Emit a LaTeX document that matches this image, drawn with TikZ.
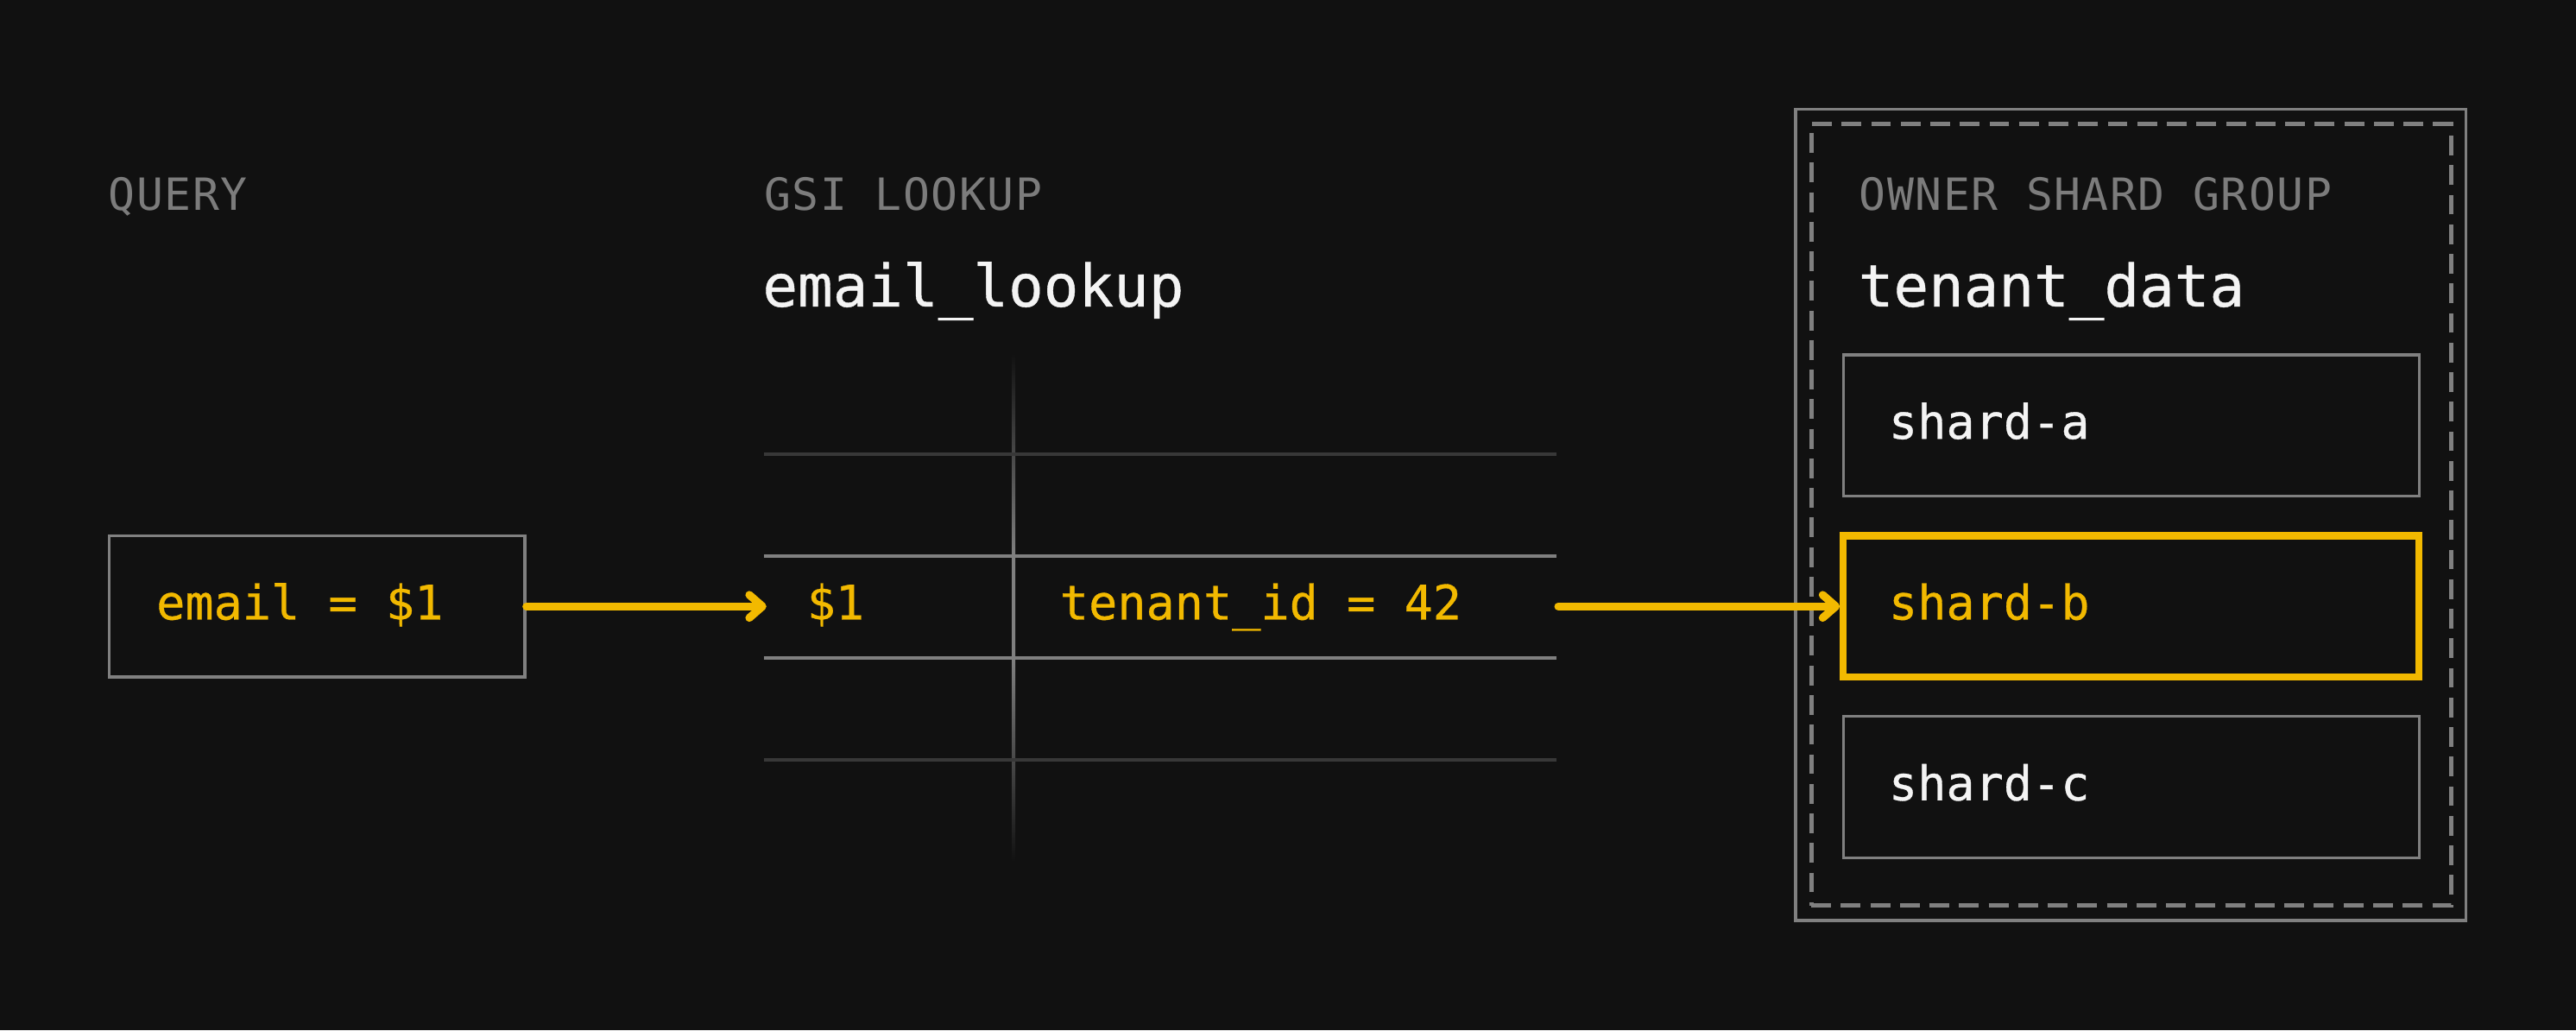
\documentclass[tikz,border=0pt]{standalone}
\usepackage{fontspec}
\newfontfamily\monof{DejaVu Sans Mono}[FakeBold=0.6]
\newfontfamily\monolab{DejaVu Sans Mono}[LetterSpace=3]
\usetikzlibrary{arrows.meta}
\definecolor{bgc}{HTML}{111111}
\definecolor{linec}{HTML}{808080}
\definecolor{dimc}{HTML}{383838}
\definecolor{acc}{HTML}{F2B900}
\definecolor{labc}{HTML}{7C7C7C}
\definecolor{wht}{HTML}{F4F4F4}
\pgfdeclareverticalshading{vfade}{100bp}{color(0bp)=(bgc); color(25bp)=(bgc); color(45bp)=(linec); color(55bp)=(linec); color(75bp)=(bgc); color(100bp)=(bgc)}
\tikzset{
  lab/.style={anchor=base west, inner sep=0pt, font=\monolab\fontsize{27}{27}\selectfont, text=labc},
  ttl/.style={anchor=base west, inner sep=0pt, font=\monof\fontsize{35.5}{35.5}\selectfont, text=wht},
  body/.style={anchor=base west, inner sep=0pt, font=\monof\fontsize{29}{29}\selectfont},
  gbox/.style={draw=linec, line width=1.8pt, inner sep=0pt, minimum height=86pt},
  hibox/.style={draw=acc, line width=4.3pt, inner sep=0pt, minimum height=86pt},
  arr/.style={draw=acc, line width=4.8pt, line cap=round, -{Straight Barb[length=8pt,width=14pt,round]}},
  bright/.style={draw=linec, line width=1.8pt},
  dim/.style={draw=dimc, line width=1.8pt}
}
\begin{document}
\begin{tikzpicture}[x=1pt,y=-1pt]
\useasboundingbox (0,0) rectangle (1568,627);
\fill[bgc] (0,0) rectangle (1568,627);

% query column
\node[lab] (qlab) at (66,128) {QUERY};
\node[gbox, minimum width=253pt] (qbox) at (193,369) {};
\node[body, text=acc] (qtxt) at (95,377) {email = \$1};

% GSI lookup column
\node[lab] (glab) at (465,128) {GSI LOOKUP};
\node[ttl] (gttl) at (464,186.5) {email\_lookup};
\shade[shading=vfade] (616,215) rectangle (618,524);
\draw[dim] (465,276.4) -- (947.6,276.4);
\draw[bright] (465,338.4) -- (947.6,338.4);
\draw[bright] (465,400.5) -- (947.6,400.5);
\draw[dim] (465,462.4) -- (947.6,462.4);
\node[body, text=acc] (key) at (491,377) {\$1};
\node[body, text=acc] (val) at (645,377) {tenant\_id = 42};
\coordinate (tin) at (466.5,369);
\coordinate (tout) at (948.5,369);

% owner shard group
\node[draw=linec, line width=2pt, inner sep=0pt, minimum width=408pt, minimum height=493.5pt] (grp) at (1297,313.25) {};
\node[draw=linec, line width=2.5pt, dash pattern=on 12pt off 6pt, inner sep=0pt, minimum width=389.5pt, minimum height=475.5pt] (grpin) at (1297.25,313.25) {};
\node[lab] (olab) at (1131.5,128) {OWNER SHARD GROUP};
\node[ttl] (ottl) at (1131,186.5) {tenant\_data};
\node[gbox, minimum width=350.5pt] (sa) at (1297.25,259) {};
\node[hibox, minimum width=350.5pt] (sb) at (1297.25,369) {};
\node[gbox, minimum width=350.5pt] (sc) at (1297.25,479) {};
\node[body, text=wht] (satxt) at (1149.5,267) {shard-a};
\node[body, text=acc] (sbtxt) at (1149.5,377) {shard-b};
\node[body, text=wht] (sctxt) at (1149.5,487) {shard-c};

% connectors
\draw[arr] (qbox.east) -- (tin);
\draw[arr] (tout) -- (sb.west);
\end{tikzpicture}
\end{document}
